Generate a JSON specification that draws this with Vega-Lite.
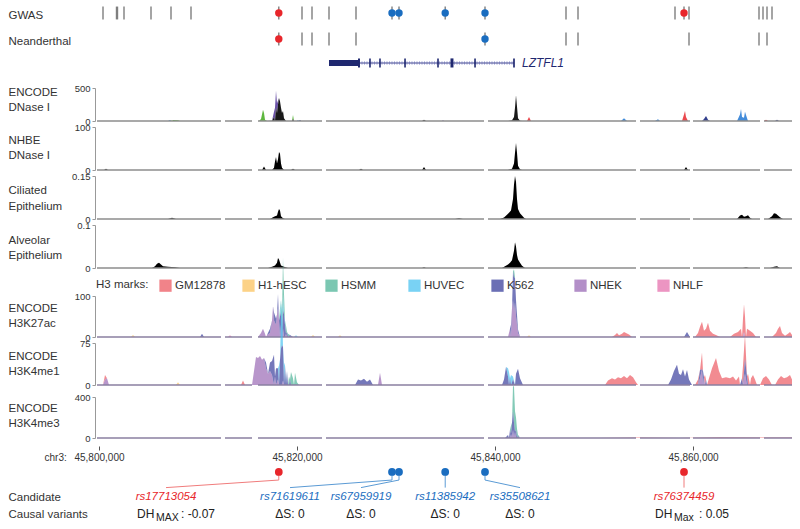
{
"$schema":"https://vega.github.io/schema/vega-lite/v6.json",
"padding":{"left":8,"top":5,"right":5,"bottom":5},
"background":"white",
"config":{
 "view":{"stroke":null},
 "font":"Liberation Sans",
 "axis":{"grid":false,"titleFontWeight":"normal","titleColor":"#333","labelColor":"#333","titleFont":"Liberation Sans","labelFont":"Liberation Sans"},
 "axisY":{"titleAngle":0,"titleAlign":"left","titleBaseline":"middle","titleX":-87,"titleFontSize":11.5,"titleLineHeight":15.5,"offset":2,"domainColor":"#999","tickColor":"#999","tickSize":3,"labelFontSize":9.5,"labelPadding":2,"labelFlush":false,"labelExpr":"format(datum.value, '.2~f')"}
},
"datasets":{
 "seg":[{"p":45799798,"p2":45812322},{"p":45812726,"p2":45815453},{"p":45816059,"p2":45822523},{"p":45822927,"p2":45838885},{"p":45839289,"p2":45854237},{"p":45854641,"p2":45859691},{"p":45859994,"p2":45866761},{"p":45867165,"p2":45869993}],
 "gwas":[{"p":45800404},{"p":45801767},{"p":45801868},{"p":45802525},{"p":45805252},{"p":45807272},{"p":45809292},{"p":45818159,"m":"DH"},{"p":45820503},{"p":45821513},{"p":45823230},{"p":45825957},{"p":45829593,"m":"ΔS"},{"p":45830300,"m":"ΔS"},{"p":45834967,"m":"ΔS"},{"p":45838986,"m":"ΔS"},{"p":45847167},{"p":45848379},{"p":45858176},{"p":45859085,"m":"DH"},{"p":45859590},{"p":45866660},{"p":45867064},{"p":45867468},{"p":45867973}],
 "nean":[{"p":45818159,"m":"DH"},{"p":45820503},{"p":45821513},{"p":45823230},{"p":45825957},{"p":45838986,"m":"ΔS"},{"p":45847167},{"p":45848379},{"p":45859590},{"p":45866660},{"p":45867468}],
 "gene":[{"p":45826260,"p2":45841915,"f":"intron"},{"p":45823230,"p2":45826260,"f":"utr"},{"p":45826160,"p2":45826360,"f":"exon"},{"p":45827290,"p2":45827450,"f":"exon"},{"p":45828300,"p2":45828460,"f":"exon"},{"p":45830830,"p2":45830990,"f":"exon"},{"p":45834160,"p2":45834320,"f":"exon"},{"p":45835500,"p2":45835800,"f":"exon"},{"p":45837900,"p2":45838060,"f":"exon"},{"p":45841830,"p2":45842000,"f":"exon"},{"p":45842521,"f":"name","name":"LZTFL1"}],
 "dnase":[
  {"s":"c1","p":45806969,"v":0},{"s":"c1","p":45807272,"v":10},{"s":"c1","p":45807474,"v":15},{"s":"c1","p":45807979,"v":10},{"s":"c1","p":45808181,"v":0},{"s":"c1","p":45816160,"v":0},{"s":"c1","p":45816362,"v":30},{"s":"c1","p":45816564,"v":170},{"s":"c1","p":45816665,"v":120},{"s":"c1","p":45816766,"v":20},{"s":"c1","p":45816968,"v":0},{"s":"c1","p":45819392,"v":0},{"s":"c1","p":45819594,"v":60},{"s":"c1","p":45819796,"v":0},
  {"s":"c2","p":45817473,"v":0},{"s":"c2","p":45817675,"v":80},{"s":"c2","p":45817776,"v":200},{"s":"c2","p":45817877,"v":260},{"s":"c2","p":45817978,"v":150},{"s":"c2","p":45818079,"v":60},{"s":"c2","p":45818281,"v":0},{"s":"c2","p":45834643,"v":0},{"s":"c2","p":45834744,"v":10},{"s":"c2","p":45834845,"v":0},
  {"s":"c3","p":45806969,"v":0},{"s":"c3","p":45807171,"v":15},{"s":"c3","p":45807373,"v":0},{"s":"c3","p":45819998,"v":0},{"s":"c3","p":45820099,"v":15},{"s":"c3","p":45820200,"v":0},{"s":"c3","p":45852722,"v":0},{"s":"c3","p":45853025,"v":40},{"s":"c3","p":45853328,"v":0},{"s":"c3","p":45856156,"v":0},{"s":"c3","p":45856459,"v":25},{"s":"c3","p":45856661,"v":0},{"s":"c3","p":45864438,"v":0},{"s":"c3","p":45864741,"v":100},{"s":"c3","p":45864842,"v":180},{"s":"c3","p":45864943,"v":60},{"s":"c3","p":45865145,"v":50},{"s":"c3","p":45865246,"v":140},{"s":"c3","p":45865347,"v":90},{"s":"c3","p":45865549,"v":0},
  {"s":"c4","p":45843228,"v":0},{"s":"c4","p":45843430,"v":60},{"s":"c4","p":45843632,"v":0},{"s":"c4","p":45858883,"v":0},{"s":"c4","p":45859085,"v":100},{"s":"c4","p":45859186,"v":150},{"s":"c4","p":45859287,"v":60},{"s":"c4","p":45859489,"v":0},{"s":"c4","p":45867165,"v":0},{"s":"c4","p":45867367,"v":20},{"s":"c4","p":45867569,"v":0},
  {"s":"c5","p":45820200,"v":0},{"s":"c5","p":45820301,"v":20},{"s":"c5","p":45820402,"v":0},{"s":"c5","p":45860903,"v":0},{"s":"c5","p":45861105,"v":30},{"s":"c5","p":45861307,"v":75},{"s":"c5","p":45861509,"v":20},{"s":"c5","p":45861711,"v":0},{"s":"c5","p":45868276,"v":0},{"s":"c5","p":45868478,"v":20},{"s":"c5","p":45868680,"v":0},
  {"s":"c6","p":45817069,"v":0},{"s":"c6","p":45817473,"v":5},{"s":"c6","p":45817675,"v":60},{"s":"c6","p":45817877,"v":200},{"s":"c6","p":45817978,"v":120},{"s":"c6","p":45818079,"v":250},{"s":"c6","p":45818180,"v":350},{"s":"c6","p":45818281,"v":300},{"s":"c6","p":45818382,"v":200},{"s":"c6","p":45818483,"v":120},{"s":"c6","p":45818584,"v":150},{"s":"c6","p":45818685,"v":40},{"s":"c6","p":45818887,"v":0},{"s":"c6","p":45819493,"v":0},{"s":"c6","p":45819594,"v":30},{"s":"c6","p":45819695,"v":0},{"s":"c6","p":45832623,"v":0},{"s":"c6","p":45832825,"v":20},{"s":"c6","p":45833027,"v":0},{"s":"c6","p":45841309,"v":0},{"s":"c6","p":45841713,"v":10},{"s":"c6","p":45841915,"v":60},{"s":"c6","p":45842016,"v":200},{"s":"c6","p":45842117,"v":390},{"s":"c6","p":45842218,"v":220},{"s":"c6","p":45842319,"v":40},{"s":"c6","p":45842521,"v":5},{"s":"c6","p":45842723,"v":0}],
 "nhbe":[{"p":45800505,"v":0},{"p":45800707,"v":3},{"p":45800909,"v":0},{"p":45816463,"v":0},{"p":45816665,"v":8},{"p":45816867,"v":0},{"p":45817473,"v":0},{"p":45817675,"v":5},{"p":45817776,"v":20},{"p":45817877,"v":30},{"p":45817978,"v":15},{"p":45818079,"v":25},{"p":45818180,"v":42},{"p":45818281,"v":38},{"p":45818382,"v":15},{"p":45818483,"v":5},{"p":45818685,"v":0},{"p":45819392,"v":0},{"p":45819594,"v":3},{"p":45819796,"v":0},{"p":45826260,"v":0},{"p":45826462,"v":3},{"p":45826664,"v":0},{"p":45832623,"v":0},{"p":45832825,"v":7},{"p":45833027,"v":0},{"p":45841309,"v":0},{"p":45841713,"v":3},{"p":45841915,"v":15},{"p":45842016,"v":40},{"p":45842117,"v":63},{"p":45842218,"v":40},{"p":45842319,"v":10},{"p":45842521,"v":2},{"p":45842723,"v":0},{"p":45859085,"v":0},{"p":45859287,"v":7},{"p":45859489,"v":0}],
 "cil":[{"p":45806969,"v":0},{"p":45807373,"v":0.004},{"p":45807777,"v":0},{"p":45817271,"v":0},{"p":45817574,"v":0.006},{"p":45817776,"v":0.01},{"p":45817978,"v":0.012},{"p":45818079,"v":0.025},{"p":45818180,"v":0.035},{"p":45818281,"v":0.03},{"p":45818382,"v":0.01},{"p":45818584,"v":0.003},{"p":45818786,"v":0},{"p":45835956,"v":0},{"p":45836360,"v":0.003},{"p":45836764,"v":0},{"p":45840501,"v":0},{"p":45840905,"v":0.005},{"p":45841208,"v":0.015},{"p":45841410,"v":0.022},{"p":45841612,"v":0.03},{"p":45841814,"v":0.07},{"p":45841915,"v":0.12},{"p":45842016,"v":0.15},{"p":45842117,"v":0.13},{"p":45842218,"v":0.07},{"p":45842319,"v":0.035},{"p":45842521,"v":0.02},{"p":45842723,"v":0.012},{"p":45842925,"v":0.004},{"p":45843127,"v":0},{"p":45864438,"v":0},{"p":45864741,"v":0.012},{"p":45864943,"v":0.015},{"p":45865145,"v":0.008},{"p":45865347,"v":0.01},{"p":45865549,"v":0.013},{"p":45865751,"v":0.004},{"p":45865953,"v":0},{"p":45867569,"v":0},{"p":45867973,"v":0.01},{"p":45868175,"v":0.02},{"p":45868377,"v":0.018},{"p":45868579,"v":0.012},{"p":45868781,"v":0.006},{"p":45869084,"v":0}],
 "alv":[{"p":45805353,"v":0},{"p":45805656,"v":0.004},{"p":45805858,"v":0.01},{"p":45806060,"v":0.012},{"p":45806262,"v":0.008},{"p":45806464,"v":0.004},{"p":45806969,"v":0.003},{"p":45807676,"v":0.002},{"p":45808181,"v":0},{"p":45817069,"v":0},{"p":45817473,"v":0.003},{"p":45817776,"v":0.006},{"p":45817978,"v":0.012},{"p":45818079,"v":0.023},{"p":45818180,"v":0.02},{"p":45818382,"v":0.006},{"p":45818685,"v":0.003},{"p":45819089,"v":0},{"p":45832623,"v":0},{"p":45832825,"v":0.002},{"p":45833027,"v":0},{"p":45840703,"v":0},{"p":45841006,"v":0.004},{"p":45841309,"v":0.008},{"p":45841511,"v":0.012},{"p":45841713,"v":0.018},{"p":45841915,"v":0.04},{"p":45842016,"v":0.06},{"p":45842117,"v":0.05},{"p":45842218,"v":0.03},{"p":45842319,"v":0.02},{"p":45842521,"v":0.012},{"p":45842723,"v":0.005},{"p":45843026,"v":0},{"p":45865044,"v":0},{"p":45865347,"v":0.002},{"p":45865650,"v":0},{"p":45867771,"v":0},{"p":45868175,"v":0.003},{"p":45868478,"v":0.004},{"p":45868781,"v":0}],
 "k27":[
  {"s":"GM12878","p":45851813,"v":0},{"s":"GM12878","p":45852116,"v":5},{"s":"GM12878","p":45852318,"v":10},{"s":"GM12878","p":45852520,"v":4},{"s":"GM12878","p":45852823,"v":8},{"s":"GM12878","p":45853025,"v":12},{"s":"GM12878","p":45853227,"v":10},{"s":"GM12878","p":45853530,"v":6},{"s":"GM12878","p":45853833,"v":0},
  {"s":"GM12878","p":45860196,"v":0},{"s":"GM12878","p":45860499,"v":10},{"s":"GM12878","p":45860701,"v":25},{"s":"GM12878","p":45860903,"v":37},{"s":"GM12878","p":45861105,"v":15},{"s":"GM12878","p":45861307,"v":20},{"s":"GM12878","p":45861509,"v":35},{"s":"GM12878","p":45861711,"v":15},{"s":"GM12878","p":45862014,"v":8},{"s":"GM12878","p":45862317,"v":5},{"s":"GM12878","p":45862721,"v":0},
  {"s":"GM12878","p":45863731,"v":0},{"s":"GM12878","p":45864135,"v":8},{"s":"GM12878","p":45864539,"v":12},{"s":"GM12878","p":45864842,"v":20},{"s":"GM12878","p":45865044,"v":45},{"s":"GM12878","p":45865145,"v":68},{"s":"GM12878","p":45865246,"v":50},{"s":"GM12878","p":45865448,"v":20},{"s":"GM12878","p":45865751,"v":15},{"s":"GM12878","p":45866054,"v":10},{"s":"GM12878","p":45866357,"v":0},
  {"s":"GM12878","p":45867973,"v":0},{"s":"GM12878","p":45868377,"v":10},{"s":"GM12878","p":45868579,"v":20},{"s":"GM12878","p":45868781,"v":27},{"s":"GM12878","p":45868983,"v":10},{"s":"GM12878","p":45869286,"v":3},{"s":"GM12878","p":45869589,"v":8},{"s":"GM12878","p":45869791,"v":12},{"s":"GM12878","p":45869993,"v":5},
  {"s":"H1-hESC","p":45803232,"v":0},{"s":"H1-hESC","p":45803434,"v":5},{"s":"H1-hESC","p":45803636,"v":0},{"s":"H1-hESC","p":45821412,"v":0},{"s":"H1-hESC","p":45821614,"v":5},{"s":"H1-hESC","p":45821816,"v":0},{"s":"H1-hESC","p":45824139,"v":0},{"s":"H1-hESC","p":45824341,"v":4},{"s":"H1-hESC","p":45824543,"v":0},{"s":"H1-hESC","p":45843228,"v":0},{"s":"H1-hESC","p":45843430,"v":4},{"s":"H1-hESC","p":45843632,"v":0},
  {"s":"NHLF","p":45813029,"v":0},{"s":"NHLF","p":45813231,"v":4},{"s":"NHLF","p":45813433,"v":0},
  {"s":"HUVEC","p":45818180,"v":0},{"s":"HUVEC","p":45818382,"v":30},{"s":"HUVEC","p":45818584,"v":40},{"s":"HUVEC","p":45818786,"v":10},{"s":"HUVEC","p":45819089,"v":0},{"s":"HUVEC","p":45819695,"v":0},{"s":"HUVEC","p":45819897,"v":4},{"s":"HUVEC","p":45820099,"v":0},
  {"s":"NHEK","p":45816059,"v":0},{"s":"NHEK","p":45816362,"v":10},{"s":"NHEK","p":45816564,"v":20},{"s":"NHEK","p":45816766,"v":8},{"s":"NHEK","p":45816968,"v":5},{"s":"NHEK","p":45817271,"v":10},{"s":"NHEK","p":45817473,"v":40},{"s":"NHEK","p":45817574,"v":75},{"s":"NHEK","p":45817675,"v":40},{"s":"NHEK","p":45817877,"v":30},{"s":"NHEK","p":45817978,"v":55},{"s":"NHEK","p":45818079,"v":70},{"s":"NHEK","p":45818180,"v":40},{"s":"NHEK","p":45818382,"v":30},{"s":"NHEK","p":45818584,"v":20},{"s":"NHEK","p":45818887,"v":8},{"s":"NHEK","p":45819291,"v":0},
  {"s":"NHEK","p":45841309,"v":0},{"s":"NHEK","p":45841511,"v":20},{"s":"NHEK","p":45841713,"v":70},{"s":"NHEK","p":45841814,"v":90},{"s":"NHEK","p":45841915,"v":60},{"s":"NHEK","p":45842016,"v":85},{"s":"NHEK","p":45842117,"v":50},{"s":"NHEK","p":45842319,"v":10},{"s":"NHEK","p":45842521,"v":0},{"s":"NHEK","p":45864943,"v":0},{"s":"NHEK","p":45865145,"v":12},{"s":"NHEK","p":45865347,"v":0},
  {"s":"HSMM","p":45818079,"v":0},{"s":"HSMM","p":45818281,"v":20},{"s":"HSMM","p":45818483,"v":60},{"s":"HSMM","p":45818584,"v":88},{"s":"HSMM","p":45818685,"v":50},{"s":"HSMM","p":45818887,"v":20},{"s":"HSMM","p":45819089,"v":8},{"s":"HSMM","p":45819291,"v":0},{"s":"HSMM","p":45841713,"v":0},{"s":"HSMM","p":45841915,"v":20},{"s":"HSMM","p":45842117,"v":0},
  {"s":"K562","p":45810201,"v":0},{"s":"K562","p":45810403,"v":8},{"s":"K562","p":45810605,"v":0},{"s":"K562","p":45816867,"v":0},{"s":"K562","p":45817271,"v":10},{"s":"K562","p":45817675,"v":20},{"s":"K562","p":45817877,"v":15},{"s":"K562","p":45818079,"v":35},{"s":"K562","p":45818281,"v":50},{"s":"K562","p":45818382,"v":30},{"s":"K562","p":45818584,"v":45},{"s":"K562","p":45818685,"v":55},{"s":"K562","p":45818786,"v":30},{"s":"K562","p":45818988,"v":12},{"s":"K562","p":45819291,"v":5},{"s":"K562","p":45819594,"v":0},
  {"s":"K562","p":45841309,"v":0},{"s":"K562","p":45841612,"v":30},{"s":"K562","p":45841814,"v":70},{"s":"K562","p":45841915,"v":85},{"s":"K562","p":45842016,"v":60},{"s":"K562","p":45842117,"v":40},{"s":"K562","p":45842319,"v":8},{"s":"K562","p":45842521,"v":0},{"s":"K562","p":45859085,"v":0},{"s":"K562","p":45859388,"v":12},{"s":"K562","p":45859691,"v":0}],
 "k4me1":[
  {"s":"GM12878","p":45800303,"v":0},{"s":"GM12878","p":45800606,"v":8},{"s":"GM12878","p":45800808,"v":0},{"s":"GM12878","p":45814342,"v":0},{"s":"GM12878","p":45814544,"v":8},{"s":"GM12878","p":45814746,"v":0},
  {"s":"GM12878","p":45851106,"v":0},{"s":"GM12878","p":45851409,"v":8},{"s":"GM12878","p":45851813,"v":12},{"s":"GM12878","p":45852116,"v":10},{"s":"GM12878","p":45852419,"v":14},{"s":"GM12878","p":45852722,"v":12},{"s":"GM12878","p":45853025,"v":16},{"s":"GM12878","p":45853328,"v":12},{"s":"GM12878","p":45853631,"v":18},{"s":"GM12878","p":45853934,"v":14},{"s":"GM12878","p":45854237,"v":5},{"s":"GM12878","p":45854439,"v":0},
  {"s":"GM12878","p":45860196,"v":0},{"s":"GM12878","p":45860499,"v":10},{"s":"GM12878","p":45860903,"v":30},{"s":"GM12878","p":45861206,"v":18},{"s":"GM12878","p":45861610,"v":12},{"s":"GM12878","p":45861913,"v":30},{"s":"GM12878","p":45862317,"v":48},{"s":"GM12878","p":45862620,"v":25},{"s":"GM12878","p":45862923,"v":12},{"s":"GM12878","p":45863327,"v":14},{"s":"GM12878","p":45863731,"v":12},{"s":"GM12878","p":45864034,"v":15},{"s":"GM12878","p":45864337,"v":8},{"s":"GM12878","p":45864640,"v":15},{"s":"GM12878","p":45865044,"v":35},{"s":"GM12878","p":45865246,"v":43},{"s":"GM12878","p":45865549,"v":20},{"s":"GM12878","p":45865852,"v":12},{"s":"GM12878","p":45866054,"v":18},{"s":"GM12878","p":45866256,"v":10},{"s":"GM12878","p":45866458,"v":0},
  {"s":"GM12878","p":45866761,"v":0},{"s":"GM12878","p":45867064,"v":12},{"s":"GM12878","p":45867367,"v":16},{"s":"GM12878","p":45867670,"v":10},{"s":"GM12878","p":45867973,"v":0},{"s":"GM12878","p":45868276,"v":0},{"s":"GM12878","p":45868579,"v":10},{"s":"GM12878","p":45868882,"v":16},{"s":"GM12878","p":45869185,"v":12},{"s":"GM12878","p":45869488,"v":14},{"s":"GM12878","p":45869791,"v":18},{"s":"GM12878","p":45869993,"v":10},
  {"s":"H1-hESC","p":45807777,"v":0},{"s":"H1-hESC","p":45807979,"v":5},{"s":"H1-hESC","p":45808181,"v":0},
  {"s":"HUVEC","p":45817877,"v":0},{"s":"HUVEC","p":45818180,"v":35},{"s":"HUVEC","p":45818382,"v":55},{"s":"HUVEC","p":45818483,"v":75},{"s":"HUVEC","p":45818685,"v":40},{"s":"HUVEC","p":45818887,"v":10},{"s":"HUVEC","p":45819089,"v":0},{"s":"HUVEC","p":45841107,"v":0},{"s":"HUVEC","p":45841309,"v":15},{"s":"HUVEC","p":45841410,"v":23},{"s":"HUVEC","p":45841612,"v":18},{"s":"HUVEC","p":45841814,"v":5},{"s":"HUVEC","p":45842016,"v":0},
  {"s":"NHEK","p":45800404,"v":0},{"s":"NHEK","p":45800606,"v":10},{"s":"NHEK","p":45800808,"v":12},{"s":"NHEK","p":45801010,"v":0},
  {"s":"NHEK","p":45815453,"v":0},{"s":"NHEK","p":45815655,"v":25},{"s":"NHEK","p":45815857,"v":50},{"s":"NHEK","p":45816059,"v":48},{"s":"NHEK","p":45816261,"v":52},{"s":"NHEK","p":45816463,"v":45},{"s":"NHEK","p":45816665,"v":48},{"s":"NHEK","p":45816867,"v":30},{"s":"NHEK","p":45817069,"v":20},{"s":"NHEK","p":45817271,"v":25},{"s":"NHEK","p":45817473,"v":18},{"s":"NHEK","p":45817776,"v":15},{"s":"NHEK","p":45818079,"v":10},{"s":"NHEK","p":45818584,"v":8},{"s":"NHEK","p":45819089,"v":0},
  {"s":"NHEK","p":45828179,"v":0},{"s":"NHEK","p":45828381,"v":22},{"s":"NHEK","p":45828583,"v":0},{"s":"NHEK","p":45860499,"v":0},{"s":"NHEK","p":45860701,"v":12},{"s":"NHEK","p":45860903,"v":28},{"s":"NHEK","p":45861105,"v":14},{"s":"NHEK","p":45861408,"v":0},{"s":"NHEK","p":45864943,"v":0},{"s":"NHEK","p":45865246,"v":20},{"s":"NHEK","p":45865549,"v":0},
  {"s":"HSMM","p":45818887,"v":0},{"s":"HSMM","p":45819190,"v":15},{"s":"HSMM","p":45819392,"v":23},{"s":"HSMM","p":45819594,"v":12},{"s":"HSMM","p":45819796,"v":22},{"s":"HSMM","p":45819998,"v":5},{"s":"HSMM","p":45820200,"v":0},
  {"s":"K562","p":45816463,"v":0},{"s":"K562","p":45816867,"v":10},{"s":"K562","p":45817271,"v":15},{"s":"K562","p":45817473,"v":25},{"s":"K562","p":45817675,"v":54},{"s":"K562","p":45817877,"v":30},{"s":"K562","p":45818079,"v":20},{"s":"K562","p":45818281,"v":45},{"s":"K562","p":45818382,"v":65},{"s":"K562","p":45818483,"v":71},{"s":"K562","p":45818584,"v":60},{"s":"K562","p":45818786,"v":35},{"s":"K562","p":45818988,"v":25},{"s":"K562","p":45819291,"v":10},{"s":"K562","p":45819695,"v":0},
  {"s":"K562","p":45825856,"v":0},{"s":"K562","p":45826159,"v":10},{"s":"K562","p":45826462,"v":8},{"s":"K562","p":45826765,"v":11},{"s":"K562","p":45827068,"v":6},{"s":"K562","p":45827371,"v":10},{"s":"K562","p":45827674,"v":0},
  {"s":"K562","p":45840703,"v":0},{"s":"K562","p":45840905,"v":10},{"s":"K562","p":45841107,"v":32},{"s":"K562","p":45841309,"v":15},{"s":"K562","p":45841511,"v":12},{"s":"K562","p":45841814,"v":10},{"s":"K562","p":45842117,"v":20},{"s":"K562","p":45842319,"v":29},{"s":"K562","p":45842521,"v":12},{"s":"K562","p":45842824,"v":0},
  {"s":"K562","p":45857469,"v":0},{"s":"K562","p":45857772,"v":10},{"s":"K562","p":45858075,"v":25},{"s":"K562","p":45858378,"v":36},{"s":"K562","p":45858580,"v":20},{"s":"K562","p":45858782,"v":18},{"s":"K562","p":45858984,"v":28},{"s":"K562","p":45859186,"v":15},{"s":"K562","p":45859388,"v":27},{"s":"K562","p":45859590,"v":10},{"s":"K562","p":45859893,"v":0},
  {"s":"K562","p":45860499,"v":0},{"s":"K562","p":45860701,"v":15},{"s":"K562","p":45861004,"v":25},{"s":"K562","p":45861307,"v":10},{"s":"K562","p":45861610,"v":0},{"s":"K562","p":45864741,"v":0},{"s":"K562","p":45864943,"v":12},{"s":"K562","p":45865246,"v":27},{"s":"K562","p":45865448,"v":15},{"s":"K562","p":45865751,"v":0}],
 "k4me3":[
  {"s":"GM12878","p":45850601,"v":0},{"s":"GM12878","p":45854641,"v":6},{"s":"GM12878","p":45858681,"v":0},{"s":"GM12878","p":45862721,"v":8},{"s":"GM12878","p":45866761,"v":4},{"s":"GM12878","p":45869993,"v":6},
  {"s":"NHEK","p":45841309,"v":0},{"s":"NHEK","p":45841612,"v":40},{"s":"NHEK","p":45841814,"v":80},{"s":"NHEK","p":45842016,"v":60},{"s":"NHEK","p":45842319,"v":0},
  {"s":"HSMM","p":45841410,"v":0},{"s":"HSMM","p":45841612,"v":80},{"s":"HSMM","p":45841814,"v":250},{"s":"HSMM","p":45841915,"v":350},{"s":"HSMM","p":45842016,"v":200},{"s":"HSMM","p":45842117,"v":120},{"s":"HSMM","p":45842218,"v":90},{"s":"HSMM","p":45842420,"v":20},{"s":"HSMM","p":45842622,"v":0},
  {"s":"K562","p":45841006,"v":0},{"s":"K562","p":45841309,"v":30},{"s":"K562","p":45841511,"v":80},{"s":"K562","p":45841713,"v":150},{"s":"K562","p":45841814,"v":180},{"s":"K562","p":45841915,"v":150},{"s":"K562","p":45842117,"v":80},{"s":"K562","p":45842319,"v":30},{"s":"K562","p":45842521,"v":0}],
 "cand":[
  {"snp":"rs17713054","p":45818159,"lab":45806767,"m":"DH","pre":"DH","sub":"MAX","post":": -0.07","ds":""},
  {"snp":"rs71619611","p":45829593,"lab":45819291,"m":"ΔS","pre":"","sub":"","post":"","ds":"ΔS: 0"},
  {"snp":"rs67959919","p":45830300,"lab":45826462,"m":"ΔS","pre":"","sub":"","post":"","ds":"ΔS: 0"},
  {"snp":"rs11385942","p":45834967,"lab":45834967,"m":"ΔS","pre":"","sub":"","post":"","ds":"ΔS: 0"},
  {"snp":"rs35508621","p":45838986,"lab":45842521,"m":"ΔS","pre":"","sub":"","post":"","ds":"ΔS: 0"},
  {"snp":"rs76374459","p":45859085,"lab":45859085,"m":"DH","pre":"DH","sub":"Max","post":": 0.05","ds":""}]
},
"vconcat":[
 {"width":695,"height":16,"data":{"name":"gwas"},
  "encoding":{"x":{"field":"p","type":"quantitative","scale":{"domain":[45799798,45869993],"nice":false,"zero":false},"axis":null}},
  "layer":[
   {"mark":{"type":"rule","color":"#7f7f7f","strokeWidth":1.4},"encoding":{"y":{"datum":0.1,"type":"quantitative","scale":{"domain":[0,1]},"axis":{"title":"GWAS","domain":false,"ticks":false,"labels":false,"titleY":10}},"y2":{"datum":0.9}}},
   {"transform":[{"filter":"isValid(datum.m)"}],"mark":{"type":"circle","size":55,"opacity":1},"encoding":{"y":{"datum":0.5,"type":"quantitative"},"color":{"field":"m","type":"nominal","scale":{"domain":["DH","ΔS"],"range":["#e8262b","#1a6dc0"]},"legend":null}}}
  ]},
 {"width":695,"height":10,"data":{"values":[]},"mark":{"type":"point","opacity":0}},
 {"width":695,"height":16,"data":{"name":"nean"},
  "encoding":{"x":{"field":"p","type":"quantitative","scale":{"domain":[45799798,45869993],"nice":false,"zero":false},"axis":null}},
  "layer":[
   {"mark":{"type":"rule","color":"#7f7f7f","strokeWidth":1.4},"encoding":{"y":{"datum":0.1,"type":"quantitative","scale":{"domain":[0,1]},"axis":{"title":"Neanderthal","domain":false,"ticks":false,"labels":false,"titleY":10}},"y2":{"datum":0.9}}},
   {"transform":[{"filter":"isValid(datum.m)"}],"mark":{"type":"circle","size":55,"opacity":1},"encoding":{"y":{"datum":0.5,"type":"quantitative"},"color":{"field":"m","type":"nominal","scale":{"domain":["DH","ΔS"],"range":["#e8262b","#1a6dc0"]},"legend":null}}}
  ]},
 {"width":695,"height":10,"data":{"values":[]},"mark":{"type":"point","opacity":0}},
 {"width":695,"height":14,"data":{"name":"gene"},
  "encoding":{"x":{"field":"p","type":"quantitative","scale":{"domain":[45799798,45869993],"nice":false,"zero":false},"axis":null}},
  "layer":[
   {"transform":[{"filter":"datum.f == 'intron'"}],"mark":{"type":"rule","color":"#c2c4e6","strokeWidth":4,"strokeDash":[1,1.5]},"encoding":{"x2":{"field":"p2"},"y":{"datum":0.571,"type":"quantitative","scale":{"domain":[0,1]},"axis":null}}},
   {"transform":[{"filter":"datum.f == 'intron'"}],"mark":{"type":"rule","color":"#3d4390","strokeWidth":1},"encoding":{"x2":{"field":"p2"},"y":{"datum":0.571,"type":"quantitative"}}},
   {"transform":[{"filter":"datum.f == 'utr'"}],"mark":{"type":"rect","color":"#1f2870"},"encoding":{"x2":{"field":"p2"},"y":{"datum":0.786,"type":"quantitative"},"y2":{"datum":0.357}}},
   {"transform":[{"filter":"datum.f == 'exon'"}],"mark":{"type":"rect","color":"#1f2870"},"encoding":{"x2":{"field":"p2"},"y":{"datum":0.9,"type":"quantitative"},"y2":{"datum":0.25}}},
   {"transform":[{"filter":"datum.f == 'name'"}],"mark":{"type":"text","align":"left","dx":2,"fontStyle":"italic","fontSize":12,"color":"#1f2870"},"encoding":{"y":{"datum":0.571,"type":"quantitative"},"text":{"field":"name"}}}
  ]},
 {"width":695,"height":17,"data":{"values":[]},"mark":{"type":"point","opacity":0}},
 {"width":695,"height":33,
  "encoding":{"x":{"field":"p","type":"quantitative","scale":{"domain":[45799798,45869993],"nice":false,"zero":false},"axis":null}},
  "layer":[
   {"data":{"name":"dnase"},"mark":{"type":"area","opacity":0.9},"encoding":{"y":{"field":"v","type":"quantitative","scale":{"domain":[0,500],"nice":false},"axis":{"values":[0,500],"title":["ENCODE","DNase I"],"titleY":4}},"color":{"field":"s","type":"nominal","scale":{"domain":["c1","c2","c3","c4","c5","c6"],"range":["#4caf2a","#5b3f9e","#2f7fd6","#e8343a","#1c2a80","#000000"]},"legend":null}}},
   {"data":{"name":"seg"},"mark":{"type":"rule","color":"#8c8c8c","strokeWidth":1.5},"encoding":{"x2":{"field":"p2"},"y":{"datum":0,"type":"quantitative"}}}
  ]},
 {"width":695,"height":6,"data":{"values":[]},"mark":{"type":"point","opacity":0}},
 {"width":695,"height":43,
  "encoding":{"x":{"field":"p","type":"quantitative","scale":{"domain":[45799798,45869993],"nice":false,"zero":false},"axis":null}},
  "layer":[
   {"data":{"name":"nhbe"},"mark":{"type":"area","color":"#000000"},"encoding":{"y":{"field":"v","type":"quantitative","scale":{"domain":[0,100],"nice":false},"axis":{"values":[0,100],"title":["NHBE","DNase I"],"titleY":13}}}},
   {"data":{"name":"seg"},"mark":{"type":"rule","color":"#8c8c8c","strokeWidth":1.5},"encoding":{"x2":{"field":"p2"},"y":{"datum":0,"type":"quantitative"}}}
  ]},
 {"width":695,"height":6,"data":{"values":[]},"mark":{"type":"point","opacity":0}},
 {"width":695,"height":43,
  "encoding":{"x":{"field":"p","type":"quantitative","scale":{"domain":[45799798,45869993],"nice":false,"zero":false},"axis":null}},
  "layer":[
   {"data":{"name":"cil"},"mark":{"type":"area","color":"#000000"},"encoding":{"y":{"field":"v","type":"quantitative","scale":{"domain":[0,0.15],"nice":false},"axis":{"values":[0,0.15],"title":["Ciliated","Epithelium"],"titleY":14.7}}}},
   {"data":{"name":"seg"},"mark":{"type":"rule","color":"#8c8c8c","strokeWidth":1.5},"encoding":{"x2":{"field":"p2"},"y":{"datum":0,"type":"quantitative"}}}
  ]},
 {"width":695,"height":6,"data":{"values":[]},"mark":{"type":"point","opacity":0}},
 {"width":695,"height":43,
  "encoding":{"x":{"field":"p","type":"quantitative","scale":{"domain":[45799798,45869993],"nice":false,"zero":false},"axis":null}},
  "layer":[
   {"data":{"name":"alv"},"mark":{"type":"area","color":"#000000"},"encoding":{"y":{"field":"v","type":"quantitative","scale":{"domain":[0,0.1],"nice":false},"axis":{"values":[0,0.1],"title":["Alveolar","Epithelium"],"titleY":15}}}},
   {"data":{"name":"seg"},"mark":{"type":"rule","color":"#8c8c8c","strokeWidth":1.5},"encoding":{"x2":{"field":"p2"},"y":{"datum":0,"type":"quantitative"}}}
  ]},
 {"width":695,"height":28,"data":{"values":[]},"mark":{"type":"point","opacity":0}},
 {"width":695,"height":41,
  "encoding":{"x":{"field":"p","type":"quantitative","scale":{"domain":[45799798,45869993],"nice":false,"zero":false},"axis":null}},
  "layer":[
   {"data":{"name":"k27"},"mark":{"type":"area","opacity":0.7},"encoding":{"y":{"field":"v","type":"quantitative","scale":{"domain":[0,100],"nice":false},"axis":{"values":[0,100],"title":["ENCODE","H3K27ac"],"titleY":12}},"color":{"field":"s","type":"nominal","scale":{"domain":["GM12878","H1-hESC","HSMM","HUVEC","K562","NHEK","NHLF"],"range":["#ec5a62","#fbc35f","#4fb498","#4cc3f0","#3a3f9c","#9a6ab5","#e572ad"]},"legend":{"orient":"none","legendX":-1,"legendY":-17,"direction":"horizontal","title":"H3 marks:","titleOrient":"left","titleFontWeight":"normal","titleFontSize":11.5,"titleColor":"#333","titlePadding":10,"labelFontSize":11.5,"labelColor":"#333","symbolType":"square","symbolSize":150,"symbolStrokeWidth":0,"gridAlign":"all","columnPadding":16,"labelOffset":3,"symbolOpacity":0.75}}}},
   {"data":{"name":"seg"},"mark":{"type":"rule","color":"#8a7fa0","strokeWidth":1.5},"encoding":{"x2":{"field":"p2"},"y":{"datum":0,"type":"quantitative"}}}
  ]},
 {"width":695,"height":6,"data":{"values":[]},"mark":{"type":"point","opacity":0}},
 {"width":695,"height":42,
  "encoding":{"x":{"field":"p","type":"quantitative","scale":{"domain":[45799798,45869993],"nice":false,"zero":false},"axis":null}},
  "layer":[
   {"data":{"name":"k4me1"},"mark":{"type":"area","opacity":0.7},"encoding":{"y":{"field":"v","type":"quantitative","scale":{"domain":[0,75],"nice":false},"axis":{"values":[0,75],"title":["ENCODE","H3K4me1"],"titleY":13}},"color":{"field":"s","type":"nominal","scale":{"domain":["GM12878","H1-hESC","HSMM","HUVEC","K562","NHEK","NHLF"],"range":["#ec5a62","#fbc35f","#4fb498","#4cc3f0","#3a3f9c","#9a6ab5","#e572ad"]},"legend":null}}},
   {"data":{"name":"seg"},"mark":{"type":"rule","color":"#8a7fa0","strokeWidth":1.5},"encoding":{"x2":{"field":"p2"},"y":{"datum":0,"type":"quantitative"}}}
  ]},
 {"width":695,"height":12,"data":{"values":[]},"mark":{"type":"point","opacity":0}},
 {"width":695,"height":41,
  "encoding":{"x":{"field":"p","type":"quantitative","scale":{"domain":[45799798,45869993],"nice":false,"zero":false},"axis":{"values":[45800000,45820000,45840000,45860000],"labelExpr":"format(datum.value, ',')","domain":false,"tickSize":4,"tickColor":"#555","labelFontSize":10,"labelColor":"#333","offset":8,"labelPadding":2,"labelFlush":false,"title":"chr3:","titleX":-53,"titleY":11,"titleAlign":"left","titleBaseline":"middle","titleAnchor":"start","titleFontSize":10,"titleFontWeight":"normal","titleColor":"#333"}}},
  "layer":[
   {"data":{"name":"k4me3"},"mark":{"type":"area","opacity":0.7},"encoding":{"y":{"field":"v","type":"quantitative","scale":{"domain":[0,400],"nice":false},"axis":{"values":[0,400],"title":["ENCODE","H3K4me3"],"titleY":11}},"color":{"field":"s","type":"nominal","scale":{"domain":["GM12878","H1-hESC","HSMM","HUVEC","K562","NHEK","NHLF"],"range":["#ec5a62","#fbc35f","#4fb498","#4cc3f0","#3a3f9c","#9a6ab5","#e572ad"]},"legend":null}}},
   {"data":{"name":"seg"},"mark":{"type":"rule","color":"#8a7fa0","strokeWidth":1.5},"encoding":{"x2":{"field":"p2"},"y":{"datum":0,"type":"quantitative"}}}
  ]},
 {"width":695,"height":28,"data":{"values":[]},"mark":{"type":"point","opacity":0}},
 {"width":695,"height":54,"data":{"name":"cand"},
  "encoding":{"x":{"field":"p","type":"quantitative","scale":{"domain":[45799798,45869993],"nice":false,"zero":false},"axis":null}},
  "layer":[
   {"mark":{"type":"rule","strokeWidth":1},"encoding":{"y":{"datum":0.89,"type":"quantitative","scale":{"domain":[0,1]},"axis":{"title":["Candidate","Causal variants"],"domain":false,"ticks":false,"labels":false,"titleY":31,"titleLineHeight":17}},"y2":{"datum":0.74},"stroke":{"field":"m","type":"nominal","scale":{"domain":["DH","ΔS"],"range":["#f07c7c","#5b9bd5"]},"legend":null}}},
   {"mark":{"type":"rule","strokeWidth":1},"encoding":{"x2":{"field":"lab"},"y":{"datum":0.74,"type":"quantitative"},"y2":{"datum":0.6},"stroke":{"field":"m","type":"nominal","scale":{"domain":["DH","ΔS"],"range":["#f07c7c","#5b9bd5"]},"legend":null}}},
   {"mark":{"type":"circle","size":60,"opacity":1},"encoding":{"y":{"datum":0.89,"type":"quantitative"},"color":{"field":"m","type":"nominal","scale":{"domain":["DH","ΔS"],"range":["#e8262b","#1a6dc0"]},"legend":null}}},
   {"mark":{"type":"text","fontStyle":"italic","fontSize":11.5},"encoding":{"x":{"field":"lab","type":"quantitative","scale":{"domain":[45799798,45869993],"nice":false,"zero":false}},"y":{"datum":0.43,"type":"quantitative"},"text":{"field":"snp"},"color":{"field":"m","type":"nominal","scale":{"domain":["DH","ΔS"],"range":["#e8262b","#1a6dc0"]},"legend":null}}},
   {"mark":{"type":"text","fontSize":12,"color":"#222"},"encoding":{"x":{"field":"lab","type":"quantitative","scale":{"domain":[45799798,45869993],"nice":false,"zero":false}},"y":{"datum":0.11,"type":"quantitative"},"text":{"field":"ds"}}},
   {"mark":{"type":"text","fontSize":12,"color":"#222","align":"left","dx":-29},"encoding":{"x":{"field":"lab","type":"quantitative","scale":{"domain":[45799798,45869993],"nice":false,"zero":false}},"y":{"datum":0.11,"type":"quantitative"},"text":{"field":"pre"}}},
   {"mark":{"type":"text","fontSize":10.5,"color":"#222","align":"left","dx":-10,"dy":4},"encoding":{"x":{"field":"lab","type":"quantitative","scale":{"domain":[45799798,45869993],"nice":false,"zero":false}},"y":{"datum":0.11,"type":"quantitative"},"text":{"field":"sub"}}},
   {"mark":{"type":"text","fontSize":12,"color":"#222","align":"left","dx":15},"encoding":{"x":{"field":"lab","type":"quantitative","scale":{"domain":[45799798,45869993],"nice":false,"zero":false}},"y":{"datum":0.11,"type":"quantitative"},"text":{"field":"post"}}}
  ]}
],
"spacing":0,"bounds":"flush",
"resolve":{"scale":{"color":"independent","stroke":"independent","x":"independent","y":"independent"},"legend":{"color":"independent"}}
}
